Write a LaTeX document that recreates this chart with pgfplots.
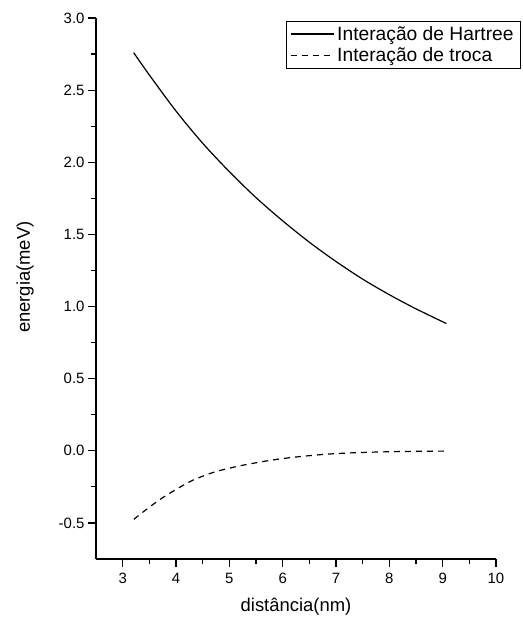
\documentclass[border=0pt]{standalone}
\usepackage{pgfplots}
\pgfplotsset{compat=1.18}
\usepackage{fontspec}
\setmainfont{Liberation Sans}
\begin{document}
\begin{tikzpicture}
\begin{axis}[
  scale only axis, width=400bp, height=541bp,
  xmin=2.5, xmax=10, ymin=-0.75, ymax=3.0,
  axis x line*=bottom, axis y line*=left,
  xtick={3,4,5,6,7,8,9,10},
  ytick={-0.5,0,0.5,1.0,1.5,2.0,2.5,3.0},
  minor x tick num=1, minor y tick num=1,
  tick align=outside, major tick length=8bp, minor tick length=4.5bp,
  every tick/.style={line width=1.2bp, black},
  axis line style={line width=1.5bp},
  /pgf/number format/assume math mode=true,
  tick label style={font=\fontsize{15}{18}\selectfont},
  yticklabel style={/pgf/number format/.cd, fixed, fixed zerofill, precision=1},
  xticklabel style={yshift=-3bp, /pgf/number format/.cd, fixed, precision=0},
  label style={font=\fontsize{18.5}{22}\selectfont},
  xlabel={distância(nm)}, ylabel={energia(meV)},
  xlabel style={at={(axis description cs:0.5,0)}, anchor=center, yshift=-48bp},
  ylabel style={at={(axis description cs:0,0.521)}, anchor=center, yshift=71bp},
  legend style={at={(rel axis cs:1.0625,0.9945)}, anchor=north east, draw=black, line width=0.8bp,
    font=\fontsize{19.3}{22}\selectfont, inner xsep=4bp, inner ysep=3bp, row sep=2bp,
    nodes={inner xsep=3bp}},
  legend cell align=left,
  legend image code/.code={\draw[#1, line width=1.2bp] (0bp,0bp) -- (43bp,0bp);},
]
\addplot[black, line width=1.2bp, smooth] coordinates {
(3.206,2.760) (3.50,2.605) (4.00,2.355) (4.50,2.132) (5.00,1.935) (5.50,1.755)
(6.00,1.594) (6.50,1.446) (7.00,1.312) (7.50,1.190) (8.00,1.082) (8.50,0.984)
(9.07,0.882)};
\addlegendentry{Interação de Hartree}
\addplot[black, line width=1.2bp, smooth, dash pattern=on 6bp off 5bp] coordinates {
(3.21,-0.475) (3.45,-0.405) (3.71,-0.335) (4.00,-0.268) (4.27,-0.212) (4.50,-0.176)
(4.77,-0.142) (5.20,-0.104) (5.77,-0.066) (6.20,-0.045) (6.77,-0.025) (7.30,-0.014)
(7.83,-0.008) (8.40,-0.004) (9.05,-0.002)};
\addlegendentry{Interação de troca}
\coordinate (O) at (rel axis cs:0,0);
\end{axis}
\pgfresetboundingbox
\path (O) ++(-96bp,-66bp) rectangle ++(523bp,625bp);
\end{tikzpicture}
\end{document}
